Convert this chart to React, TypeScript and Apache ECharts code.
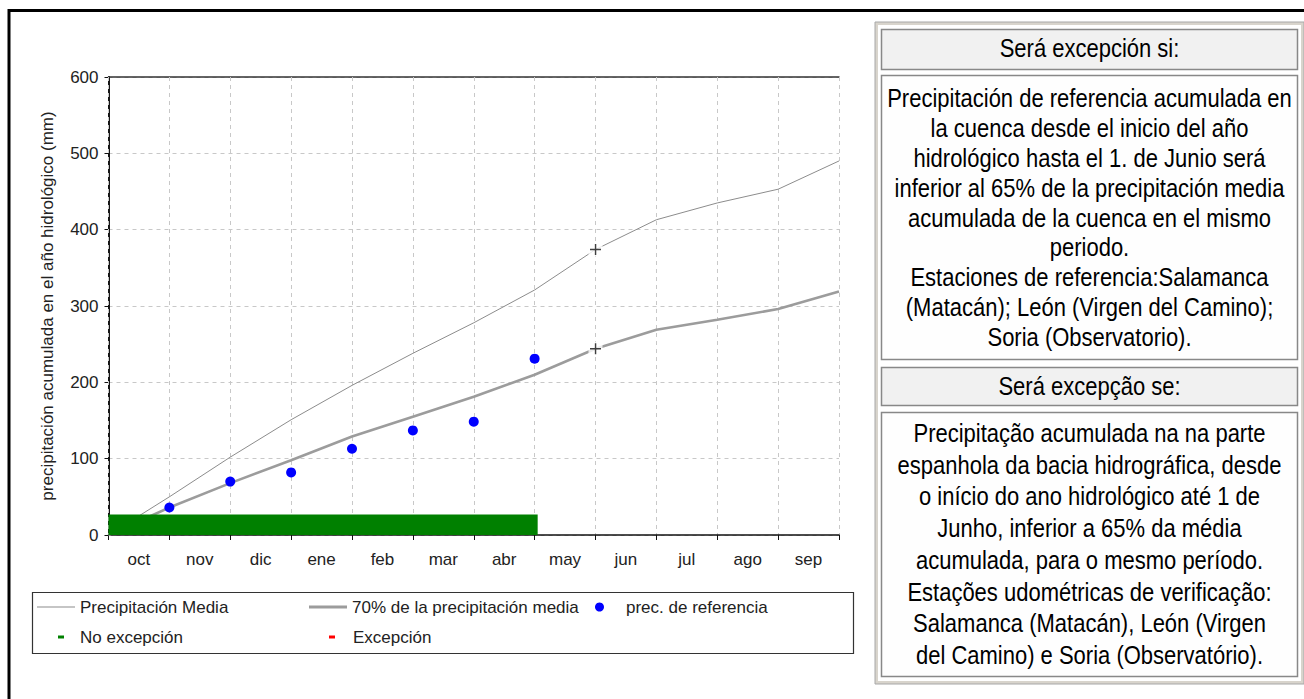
import React, { useEffect, useRef } from "react";
import * as echarts from "echarts";

const months = ["oct", "nov", "dic", "ene", "feb", "mar", "abr", "may", "jun", "jul", "ago", "sep"];
const monthEnds = [0, 1, 2, 3, 4, 5, 6, 7, 8, 9, 10, 11, 12];
const precipMedia = [0, 50, 102, 151, 196, 238, 278, 321, 374, 413, 435, 453, 490];
const precip65 = [0, 36, 68, 98, 129, 155, 181, 210, 244, 269, 282, 296, 319];
const refMonths = [1, 2, 3, 4, 5, 6, 7];
const refPrec = [36, 70, 82, 113, 137, 148.5, 231];
const noExcepcion = [[0, 7.05, 27]];
const excepcion: number[][] = [];
const markIndex = 8;
const yTicks = { min: 0, max: 600, interval: 100 };

const header1 = "Será excepción si:";
const body1 =
  "Precipitación de referencia acumulada en\nla cuenca desde el inicio del año\nhidrológico hasta el 1. de Junio será\ninferior al 65% de la precipitación media\nacumulada de la cuenca en el mismo\nperiodo.\nEstaciones de referencia:Salamanca\n(Matacán); León (Virgen del Camino);\nSoria (Observatorio).";
const header2 = "Será excepção se:";
const body2 =
  "Precipitação acumulada na na parte\nespanhola da bacia hidrográfica, desde\no início do ano hidrológico até 1 de\nJunho, inferior a 65% da média\nacumulada, para o mesmo período.\nEstações udométricas de verificação:\nSalamanca (Matacán), León (Virgen\ndel Camino) e Soria (Observatório).";

const FONT = '"Liberation Sans", Arial, sans-serif';

function panelText(text: string, x: number, y: number, lineHeight: number) {
  return {
    type: "group",
    x,
    y,
    scaleY: 1.14,
    z: 3,
    children: [
      {
        type: "text",
        x: 0,
        y: 0,
        z: 3,
        style: { text, font: `22px ${FONT}`, lineHeight: lineHeight / 1.14, fill: "#000", align: "center", verticalAlign: "middle" },
      },
    ],
  };
}

export default function App() {
  const ref = useRef<HTMLDivElement>(null);
  useEffect(() => {
    document.body.style.margin = "0";
    const chart = echarts.init(ref.current!, null, { renderer: "svg" });
    const legendText = { fontFamily: FONT, fontSize: 17, color: "#222", lineHeight: 20 };
    const renderBar = (params: any, api: any) => {
      const p0 = api.coord([api.value(0), 0]);
      const p1 = api.coord([api.value(1), api.value(2)]);
      return {
        type: "rect",
        shape: { x: p0[0], y: p1[1], width: p1[0] - p0[0], height: p0[1] - p1[1] },
        style: { fill: api.visual("color") },
      };
    };
    const option: any = {
      animation: false,
      backgroundColor: "#fff",
      textStyle: { fontFamily: FONT },
      grid: {
        left: 108.5,
        top: 77,
        right: 1304 - 839,
        bottom: 699 - 535,
        show: false,
      },
      xAxis: [
        {
          type: "value",
          min: 0,
          max: 12,
          interval: 1,
          axisLine: { show: true, lineStyle: { color: "#111", width: 1.5 } },
          axisTick: { show: true, length: 5, lineStyle: { color: "#111" } },
          axisLabel: { show: false },
          splitLine: { show: true, lineStyle: { color: "#c8c8c8", type: [4, 4], width: 1 } },
          z: 1,
        },
        {
          type: "category",
          data: months,
          boundaryGap: true,
          position: "bottom",
          axisLine: { show: false },
          axisTick: { show: false },
          splitLine: { show: false },
          axisLabel: { fontFamily: FONT, fontSize: 17, color: "#222", margin: 16 },
        },
        {
          type: "value",
          min: 0,
          max: 12,
          position: "top",
          axisLine: { show: true, lineStyle: { color: "#333", width: 1.5 } },
          axisTick: { show: false },
          axisLabel: { show: false },
          splitLine: { show: false },
        },
      ],
      yAxis: [
        {
          type: "value",
          min: yTicks.min,
          max: yTicks.max,
          interval: yTicks.interval,
          name: "precipitación acumulada en el año hidrológico (mm)",
          nameLocation: "middle",
          nameGap: 53,
          nameTextStyle: { fontFamily: FONT, fontSize: 17, color: "#222" },
          axisLine: { show: true, lineStyle: { color: "#111", width: 1.5 } },
          axisTick: { show: true, length: 4, lineStyle: { color: "#111" } },
          axisLabel: { fontFamily: FONT, fontSize: 17, color: "#222", margin: 10 },
          splitLine: { show: true, lineStyle: { color: "#c8c8c8", type: [4, 4], width: 1 } },
        },
        {
          type: "value",
          min: yTicks.min,
          max: yTicks.max,
          position: "right",
          axisLine: { show: true, lineStyle: { color: "#111", width: 1.8 } },
          axisTick: { show: false },
          axisLabel: { show: false },
          splitLine: { show: false },
        },
      ],
      legend: [
        { data: ["Precipitación Media"], left: 37, top: 597, icon: "rect", itemWidth: 38, itemHeight: 1, padding: 0, selectedMode: false, textStyle: legendText },
        { data: ["70% de la precipitación media"], left: 309, top: 597, icon: "rect", itemWidth: 38, itemHeight: 3, padding: 0, selectedMode: false, textStyle: legendText },
        { data: ["prec. de referencia"], left: 595, top: 597, icon: "circle", itemWidth: 9, itemHeight: 9, padding: 0, selectedMode: false, textStyle: { ...legendText, padding: [0, 0, 0, 17] } },
        { data: ["No excepción"], left: 58, top: 627, icon: "rect", itemWidth: 6, itemHeight: 3, padding: 0, selectedMode: false, textStyle: { ...legendText, padding: [0, 0, 0, 11] } },
        { data: ["Excepción"], left: 329, top: 627, icon: "rect", itemWidth: 6, itemHeight: 3, padding: 0, selectedMode: false, textStyle: { ...legendText, padding: [0, 0, 0, 13] } },
      ],
      series: [
        {
          name: "Precipitación Media",
          type: "line",
          xAxisIndex: 0,
          data: monthEnds.map((m, i) => [m, precipMedia[i]]),
          showSymbol: false,
          color: "#8c8c8c",
          lineStyle: { color: "#8c8c8c", width: 1 },
          z: 2,
        },
        {
          name: "70% de la precipitación media",
          type: "line",
          xAxisIndex: 0,
          data: monthEnds.map((m, i) => [m, precip65[i]]),
          showSymbol: false,
          color: "#9c9c9c",
          lineStyle: { color: "#9c9c9c", width: 2.6 },
          z: 2,
        },
        {
          name: "marcasFondo",
          type: "scatter",
          xAxisIndex: 0,
          data: [[monthEnds[markIndex], precipMedia[markIndex]], [monthEnds[markIndex], precip65[markIndex]]],
          symbol: "rect",
          symbolSize: 14,
          itemStyle: { color: "#fff" },
          z: 3,
          silent: true,
        },
        {
          name: "marcas",
          type: "scatter",
          xAxisIndex: 0,
          data: [[monthEnds[markIndex], precipMedia[markIndex]], [monthEnds[markIndex], precip65[markIndex]]],
          symbol: "path://M4.4,0h1.3v10h-1.3z M0,4.4h10v1.3h-10z",
          symbolSize: 11,
          itemStyle: { color: "#111" },
          z: 4,
          silent: true,
        },
        {
          name: "No excepción",
          type: "custom",
          xAxisIndex: 0,
          data: noExcepcion,
          itemStyle: { color: "#008000" },
          z: 5,
          renderItem: renderBar,
        },
        {
          name: "Excepción",
          type: "custom",
          xAxisIndex: 0,
          data: excepcion,
          itemStyle: { color: "#ff0000" },
          z: 5,
          renderItem: renderBar,
        },
        {
          name: "prec. de referencia",
          type: "scatter",
          xAxisIndex: 0,
          data: refMonths.map((m, i) => [m, refPrec[i]]),
          symbol: "circle",
          symbolSize: 10,
          color: "#0000ff",
          itemStyle: { color: "#0000ff", opacity: 1 },
          z: 6,
        },
      ],
      graphic: [
        { type: "line", shape: { x1: 8, y1: 10.5, x2: 1304, y2: 10.5 }, style: { stroke: "#000", lineWidth: 3 }, z: 10 },
        { type: "line", shape: { x1: 9, y1: 9, x2: 9, y2: 699 }, style: { stroke: "#000", lineWidth: 3 }, z: 10 },
        { type: "rect", shape: { x: 32.5, y: 592.5, width: 821, height: 61 }, style: { fill: "none", stroke: "#333", lineWidth: 1.2 }, z: 1 },
        { type: "rect", shape: { x: 876.5, y: 23.5, width: 426, height: 659 }, style: { fill: "#fff", stroke: "#d8d4cc", lineWidth: 3 }, z: 1 },
        { type: "rect", shape: { x: 875, y: 22, width: 429, height: 662 }, style: { fill: "none", stroke: "#a8a8a8", lineWidth: 1 }, z: 1 },
        { type: "rect", shape: { x: 881.5, y: 29.5, width: 416, height: 40 }, style: { fill: "#f1f1f1", stroke: "#888", lineWidth: 1.5 }, z: 2 },
        { type: "rect", shape: { x: 881.5, y: 75.5, width: 416, height: 284 }, style: { fill: "#fefefe", stroke: "#888", lineWidth: 1.5 }, z: 2 },
        { type: "rect", shape: { x: 881.5, y: 367.5, width: 416, height: 38 }, style: { fill: "#f1f1f1", stroke: "#888", lineWidth: 1.5 }, z: 2 },
        { type: "rect", shape: { x: 881.5, y: 412.5, width: 416, height: 264 }, style: { fill: "#fefefe", stroke: "#888", lineWidth: 1.5 }, z: 2 },
        panelText(header1, 1089.5, 48.5, 30),
        panelText(body1, 1089.5, 218, 30),
        panelText(header2, 1089.5, 386.5, 30),
        panelText(body2, 1089.5, 544.5, 31.7),
      ],
    };
    chart.setOption(option);
    return () => chart.dispose();
  }, []);
  return <div ref={ref} style={{ width: 1304, height: 699, position: "absolute", left: 0, top: 0 }} />;
}
